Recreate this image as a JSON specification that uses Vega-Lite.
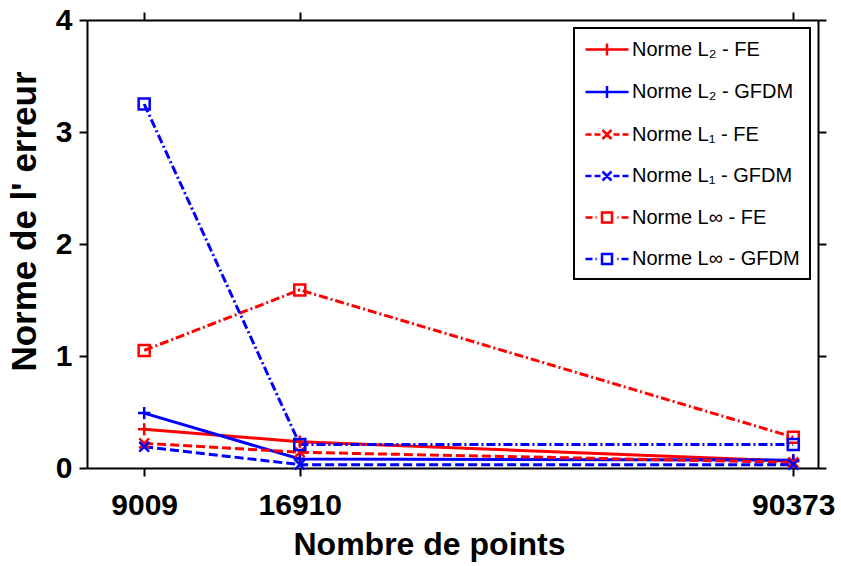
{
  "$schema": "https://vega.github.io/schema/vega-lite/v6.json",
  "width": 731,
  "height": 448,
  "autosize": {"type": "none"},
  "padding": {"left": 87, "top": 20, "right": 23, "bottom": 98},
  "background": "white",
  "config": {
    "view": {"stroke": null},
    "font": "Liberation Sans",
    "axis": {
      "grid": false,
      "domainColor": "black",
      "domainWidth": 2,
      "tickColor": "black",
      "tickWidth": 2,
      "tickSize": 8,
      "labelFont": "Liberation Sans",
      "labelFontWeight": "bold",
      "labelFontSize": 30,
      "labelColor": "black",
      "titleFont": "Liberation Sans",
      "titleFontWeight": "bold",
      "titleColor": "black"
    },
    "legend": {
      "orient": "none",
      "legendX": 487,
      "legendY": 8,
      "strokeColor": "black",
      "strokeWidth": 2,
      "fillColor": "white",
      "padding": 10,
      "labelFont": "Liberation Sans",
      "labelFontSize": 20,
      "labelColor": "black",
      "labelOffset": 25,
      "symbolSize": 400,
      "symbolStrokeWidth": 2.5,
      "rowPadding": 19.5,
      "labelLimit": 400
    }
  },
  "data": {
    "values": [
      {"n": 9009, "v": 0.345, "s": "Norme L₂ - FE"},
      {"n": 16910, "v": 0.235, "s": "Norme L₂ - FE"},
      {"n": 90373, "v": 0.06, "s": "Norme L₂ - FE"},
      {"n": 9009, "v": 0.49, "s": "Norme L₂ - GFDM"},
      {"n": 16910, "v": 0.08, "s": "Norme L₂ - GFDM"},
      {"n": 90373, "v": 0.07, "s": "Norme L₂ - GFDM"},
      {"n": 9009, "v": 0.22, "s": "Norme L₁ - FE"},
      {"n": 16910, "v": 0.14, "s": "Norme L₁ - FE"},
      {"n": 90373, "v": 0.05, "s": "Norme L₁ - FE"},
      {"n": 9009, "v": 0.19, "s": "Norme L₁ - GFDM"},
      {"n": 16910, "v": 0.03, "s": "Norme L₁ - GFDM"},
      {"n": 90373, "v": 0.03, "s": "Norme L₁ - GFDM"},
      {"n": 9009, "v": 1.05, "s": "Norme L∞ - FE"},
      {"n": 16910, "v": 1.59, "s": "Norme L∞ - FE"},
      {"n": 90373, "v": 0.275, "s": "Norme L∞ - FE"},
      {"n": 9009, "v": 3.25, "s": "Norme L∞ - GFDM"},
      {"n": 16910, "v": 0.21, "s": "Norme L∞ - GFDM"},
      {"n": 90373, "v": 0.21, "s": "Norme L∞ - GFDM"}
    ]
  },
  "layer": [
    {
      "transform": [{"filter": {"field": "s", "equal": "none"}}],
      "mark": {"type": "point", "filled": false, "strokeWidth": 2.5, "opacity": 1},
      "encoding": {
        "x": {"field": "n", "type": "quantitative", "axis": null,
          "scale": {"type": "pow", "exponent": 0.15, "domain": [7036, 97300], "nice": false, "zero": false}},
        "y": {"field": "v", "type": "quantitative", "axis": null,
          "scale": {"domain": [0, 4], "nice": false, "zero": true}},
        "color": {
          "field": "s", "type": "nominal",
          "scale": {
            "domain": ["Norme L₂ - FE", "Norme L₂ - GFDM", "Norme L₁ - FE", "Norme L₁ - GFDM", "Norme L∞ - FE", "Norme L∞ - GFDM"],
            "range": ["#ff0000", "#0000ff", "#ff0000", "#0000ff", "#ff0000", "#0000ff"]
          },
          "legend": {"title": null}
        },
        "shape": {
          "field": "s", "type": "nominal",
          "scale": {
            "domain": ["Norme L₂ - FE", "Norme L₂ - GFDM", "Norme L₁ - FE", "Norme L₁ - GFDM", "Norme L∞ - FE", "Norme L∞ - GFDM"],
            "range": [
              "M-1,0H3.3M1.15,-0.6V0.6",
              "M-1,0H3.3M1.15,-0.6V0.6",
              "M-1,0H-0.4M-0.1,0H0.5M1.8,0H2.4M2.7,0H3.3M0.7,-0.45L1.6,0.45M0.7,0.45L1.6,-0.45",
              "M-1,0H-0.4M-0.1,0H0.5M1.8,0H2.4M2.7,0H3.3M0.7,-0.45L1.6,0.45M0.7,0.45L1.6,-0.45",
              "M-1,0H-0.3M0,0H0.12M0.65,-0.5H1.65V0.5H0.65ZM2.18,0H2.3M2.6,0H3.3",
              "M-1,0H-0.3M0,0H0.12M0.65,-0.5H1.65V0.5H0.65ZM2.18,0H2.3M2.6,0H3.3"
            ]
          },
          "legend": {"title": null}
        }
      }
    },
    {
      "transform": [{"filter": {"field": "s", "oneOf": ["Norme L₂ - FE", "Norme L₂ - GFDM"]}}],
      "mark": {"type": "line", "strokeWidth": 3},
      "encoding": {
        "x": {"field": "n", "type": "quantitative",
          "axis": {"values": [9009, 16910, 90373], "format": "d", "title": "Nombre de points", "titleFontSize": 32, "labelPadding": 14, "titlePadding": 9, "titleX": 342}},
        "y": {"field": "v", "type": "quantitative",
          "axis": {"values": [0, 1, 2, 3, 4], "title": "Norme de l' erreur", "titleFontSize": 35, "labelPadding": 7, "titlePadding": 13, "titleY": 201}},
        "color": {"field": "s", "type": "nominal"}
      }
    },
    {
      "transform": [{"filter": {"field": "s", "oneOf": ["Norme L₁ - FE", "Norme L₁ - GFDM"]}}],
      "mark": {"type": "line", "strokeWidth": 3, "strokeDash": [9, 4]},
      "encoding": {
        "x": {"field": "n", "type": "quantitative", "axis": null},
        "y": {"field": "v", "type": "quantitative", "axis": null},
        "color": {"field": "s", "type": "nominal"}
      }
    },
    {
      "transform": [{"filter": {"field": "s", "oneOf": ["Norme L∞ - FE", "Norme L∞ - GFDM"]}}],
      "mark": {"type": "line", "strokeWidth": 3, "strokeDash": [9, 3, 2, 3]},
      "encoding": {
        "x": {"field": "n", "type": "quantitative", "axis": null},
        "y": {"field": "v", "type": "quantitative", "axis": null},
        "color": {"field": "s", "type": "nominal"}
      }
    },
    {
      "transform": [{"filter": {"field": "s", "oneOf": ["Norme L₂ - FE", "Norme L₂ - GFDM"]}}],
      "mark": {"type": "point", "filled": false, "strokeWidth": 2.5, "opacity": 1, "shape": "M-1,0H1M0,-1V1", "size": 150},
      "encoding": {
        "x": {"field": "n", "type": "quantitative",
          "axis": {"orient": "top", "values": [9009, 16910, 90373], "labels": false, "title": null}},
        "y": {"field": "v", "type": "quantitative",
          "axis": {"orient": "right", "values": [0, 1, 2, 3, 4], "labels": false, "title": null}},
        "color": {"field": "s", "type": "nominal"}
      }
    },
    {
      "transform": [{"filter": {"field": "s", "oneOf": ["Norme L₁ - FE", "Norme L₁ - GFDM"]}}],
      "mark": {"type": "point", "filled": false, "strokeWidth": 2.5, "opacity": 1, "shape": "M-0.8,-0.8L0.8,0.8M-0.8,0.8L0.8,-0.8", "size": 150},
      "encoding": {
        "x": {"field": "n", "type": "quantitative", "axis": null},
        "y": {"field": "v", "type": "quantitative", "axis": null},
        "color": {"field": "s", "type": "nominal"}
      }
    },
    {
      "transform": [{"filter": {"field": "s", "oneOf": ["Norme L∞ - FE", "Norme L∞ - GFDM"]}}],
      "mark": {"type": "point", "filled": false, "strokeWidth": 2.5, "opacity": 1, "shape": "M-0.9,-0.9H0.9V0.9H-0.9Z", "size": 150},
      "encoding": {
        "x": {"field": "n", "type": "quantitative", "axis": null},
        "y": {"field": "v", "type": "quantitative", "axis": null},
        "color": {"field": "s", "type": "nominal"}
      }
    }
  ],
  "resolve": {"axis": {"x": "independent", "y": "independent"}}
}
